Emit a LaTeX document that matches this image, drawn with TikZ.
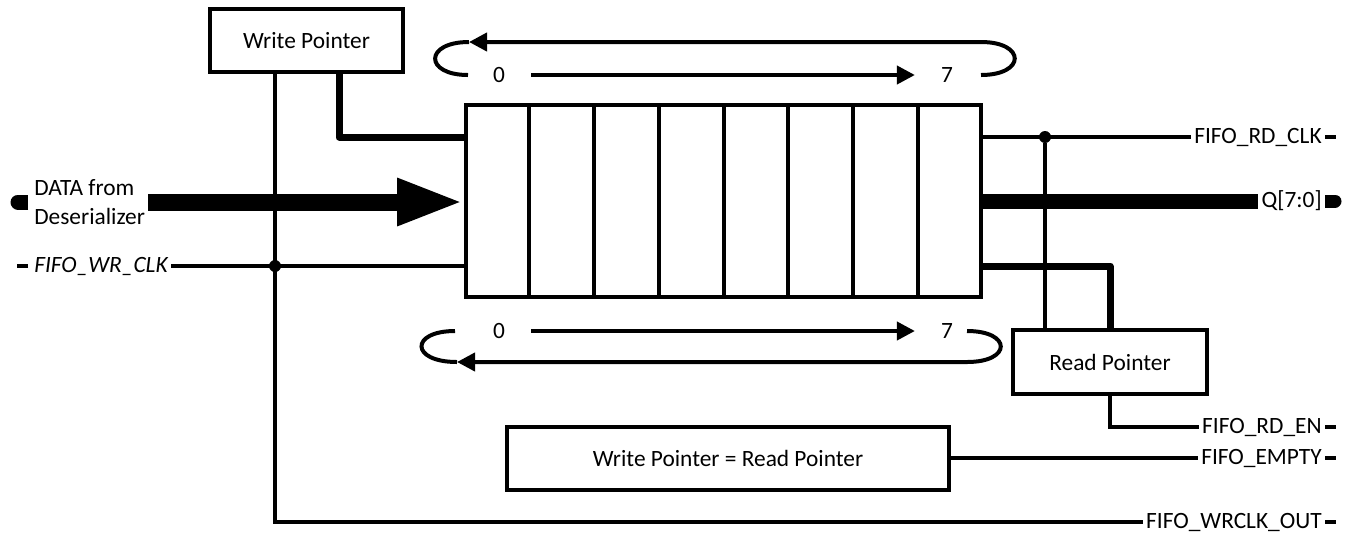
\documentclass[tikz,border=0pt]{standalone}
\usepackage{fontspec}
\setmainfont{Carlito}
\usetikzlibrary{arrows.meta,positioning,calc}

\begin{document}
\begin{tikzpicture}[x=0.02cm, y=-0.02cm, >={Triangle[length=0.36cm,width=0.36cm]},
    font=\fontsize{13.3pt}{16.5pt}\selectfont,
    box/.style={draw, line width=0.08cm, inner sep=0pt},
    sig/.style={inner sep=1.7pt},
    wire/.style={line width=0.08cm},
    ptr/.style={line width=0.14cm},
    bus/.style={line width=0.3cm},
    dot/.style={circle, fill, inner sep=0pt, minimum size=0.24cm}]
    \useasboundingbox (0,0) rectangle (1351,535);

    % blocks
    \node[box, minimum width=3.86cm, minimum height=1.26cm] (wp) at (306.5,40.5) {Write Pointer};
    \node[box, minimum width=10.3cm, minimum height=3.84cm] (fifo) at (723.5,201) {};
    \node[box, minimum width=3.88cm, minimum height=1.28cm] (rp) at (1110,362) {Read Pointer};
    \node[box, minimum width=8.84cm, minimum height=1.26cm] (eq) at (728,458) {Write Pointer = Read Pointer};
    \foreach \i in {1,...,7}
      \draw[wire] ($(fifo.north west)!\i/8!(fifo.north east)$) -- ($(fifo.south west)!\i/8!(fifo.south east)$);

    % signals
    \node[sig, anchor=west, align=left] (din) at (31,202) {DATA from\\Deserializer};
    \node[sig, anchor=west] (wrclk) at (31,266) {\itshape FIFO\_WR\_CLK};
    \node[sig, anchor=east] (rdclk) at (1325,137) {FIFO\_RD\_CLK};
    \node[sig, anchor=east] (q) at (1325,201) {Q[7:0]};
    \node[sig, anchor=east] (rden) at (1325,427) {FIFO\_RD\_EN};
    \node[sig, anchor=east] (empty) at (1325,458) {FIFO\_EMPTY};
    \node[sig, anchor=east] (wrout) at (1325,522) {FIFO\_WRCLK\_OUT};
    \node[dot] (wdot) at (275,266) {};
    \node[dot] (rdot) at (1045,137) {};

    % pointer counts
    \node (t0) at (499,75) {0};
    \node (t7) at (947,75) {7};
    \node (b0) at (499,331) {0};
    \node (b7) at (947,331) {7};
    \draw[wire, ->, shorten <=0.4cm, shorten >=0.4cm] (t0) -- (t7);
    \draw[wire, ->, shorten <=0.4cm, shorten >=0.4cm] (b0) -- (b7);
    \draw[wire, ->] (981,75) .. controls (1026,75) and (1026,42) .. (981,42) -- (469,42);
    \draw[wire] (469,42) .. controls (424,42) and (424,75) .. (468,75);
    \draw[wire, ->] (967,331) .. controls (1012,331) and (1012,362) .. (967,362) -- (457,362);
    \draw[wire] (457,362) .. controls (410,362) and (410,331) .. (455,331);

    % write side
    \draw[ptr, line join=round] ($(wp.south)+(32.5,0)$) |- (fifo.west |- 0,137);
    \draw[wire] ($(wp.south)+(-31.5,0)$) |- (wrout.west);
    \draw[wire] (wrclk.east) -- (fifo.west |- wrclk.east);
    \draw[bus, line width=0.34cm, -{Triangle[length=1.34cm,width=0.86cm]}] (din.east) -- (fifo.west |- din.east);

    % read side
    \draw[wire] (fifo.east |- rdclk.west) -- (rdclk.west);
    \draw[wire] (rdot) -- (rdot |- rp.north);
    \draw[bus] (fifo.east |- q.west) -- (q.west);
    \draw[ptr, line join=round] (fifo.east |- 0,266) -| (rp.north);
    \draw[wire] (rp.south) |- (rden.west);
    \draw[wire] (eq.east) -- (empty.west);

    % pins
    \draw[wire] (wrclk.west) ++(-3,0) -- ++(-11,0);
    \foreach \s in {rdclk,rden,empty,wrout}
      \draw[wire] (\s.east) -- ++(11,0);
    \draw[line width=0.26cm] (q.east) -- ++(8,0);
    \draw[line width=0.26cm, line cap=round] (q.east) ++(8,0) -- ++(2,0);
    \draw[line width=0.3cm] (din.west) ++(-3,0) -- ++(-8,0);
    \draw[line width=0.3cm, line cap=round] (din.west) ++(-11,0) -- ++(-2,0);
\end{tikzpicture}
\end{document}
